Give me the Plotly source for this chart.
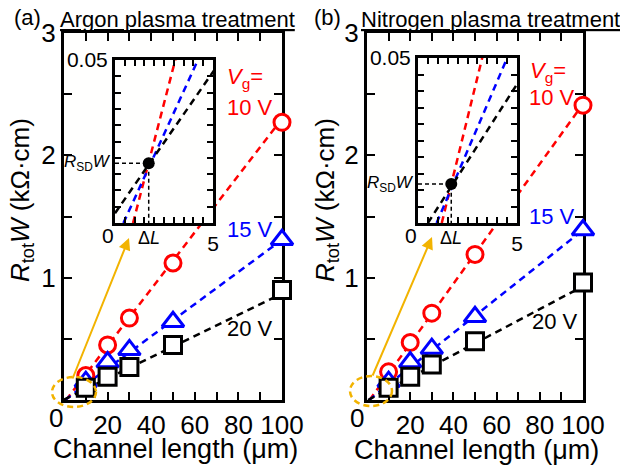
import plotly.graph_objects as go

W, H = 620, 470
FONT = "Liberation Sans, Arial, sans-serif"

# ---------------- data ----------------
L = [10, 20, 30, 50, 100]
a_10V = [0.20, 0.45, 0.67, 1.12, 2.27]
a_15V = [0.15, 0.31, 0.41, 0.64, 1.31]
a_20V = [0.10, 0.19, 0.27, 0.45, 0.90]
b_10V = [0.23, 0.47, 0.71, 1.19, 2.41]
b_15V = [0.15, 0.31, 0.42, 0.68, 1.39]
b_20V = [0.10, 0.19, 0.29, 0.48, 0.96]

# linear-fit lines (end points)
a_fit10_L = [0.92, 100]; a_fit10_R = [0.0, 2.30]
a_fit15_L = [0.43, 100]; a_fit15_R = [0.0, 1.31]
a_fit20_L = [0.0, 100];  a_fit20_R = [0.003, 0.87]
b_fit10_L = [1.20, 100]; b_fit10_R = [0.0, 2.42]
b_fit15_L = [0.94, 100]; b_fit15_R = [0.0, 1.39]
b_fit20_L = [0.50, 100]; b_fit20_R = [0.0, 0.93]

# crossing point (ΔL, RSD*W)
a_dL, a_RSD = 1.72, 0.0183
b_dL, b_RSD = 1.68, 0.0118

x_ticks = [20, 40, 60, 80, 100]
y_ticks = [1, 2, 3]

RED, BLUE, BLACK = "#ff0000", "#0000ff", "#000000"
YEL = "#f2b300"


def px(x):
    return x / W


def py(y):
    return 1 - y / H


fig = go.Figure()

panels = [
    ("x", "y", "x3", "y3",
     [(a_fit10_L, a_fit10_R, RED), (a_fit15_L, a_fit15_R, BLUE), (a_fit20_L, a_fit20_R, BLACK)],
     [(a_10V, RED, "circle", 16), (a_15V, BLUE, "triangle-up", 19), (a_20V, BLACK, "square", 17)],
     a_dL, a_RSD),
    ("x2", "y2", "x4", "y4",
     [(b_fit10_L, b_fit10_R, RED), (b_fit15_L, b_fit15_R, BLUE), (b_fit20_L, b_fit20_R, BLACK)],
     [(b_10V, RED, "circle", 16), (b_15V, BLUE, "triangle-up", 19), (b_20V, BLACK, "square", 17)],
     b_dL, b_RSD),
]

for xa, ya, xi, yi, fits, series, dL, rsd in panels:
    for fx, fy, c in fits:
        fig.add_trace(go.Scatter(x=fx, y=fy, mode="lines", xaxis=xa, yaxis=ya,
                                 line=dict(color=c, width=2.5, dash="7px,5px"),
                                 showlegend=False, hoverinfo="skip"))
    for vals, c, sym, sz in series:
        fig.add_trace(go.Scatter(x=L, y=vals, mode="markers", xaxis=xa, yaxis=ya,
                                 marker=dict(symbol=sym, size=sz, color="white",
                                             line=dict(color=c, width=3)),
                                 cliponaxis=False, showlegend=False))
    for fx, fy, c in fits:
        fig.add_trace(go.Scatter(x=fx, y=fy, mode="lines", xaxis=xi, yaxis=yi,
                                 line=dict(color=c, width=2.5, dash="7px,5px"),
                                 showlegend=False, hoverinfo="skip"))
    fig.add_trace(go.Scatter(x=[0, dL, dL], y=[rsd, rsd, 0], mode="lines", xaxis=xi, yaxis=yi,
                             line=dict(color="black", width=1.5, dash="4px,3px"),
                             showlegend=False))
    fig.add_trace(go.Scatter(x=[dL], y=[rsd], mode="markers", xaxis=xi, yaxis=yi,
                             marker=dict(color="black", size=12), showlegend=False))

common = dict(ticks="inside", tickcolor="black", showline=True, linecolor="black",
              mirror="ticks", showgrid=False, zeroline=False, automargin=False, fixedrange=True)

main_x = dict(common, range=[0, 100], tickvals=x_ticks, ticktext=[str(v) for v in x_ticks],
              ticklen=8, tickwidth=2, linewidth=3,
              minor=dict(dtick=10, tick0=0, ticks="inside", ticklen=8, tickwidth=2, tickcolor="black"),
              layer="below traces",
              tickfont=dict(family=FONT, size=26, color="black"))
main_y = dict(common, range=[0, 3], tickvals=y_ticks, ticktext=[str(v) for v in y_ticks],
              ticklen=8, tickwidth=2, linewidth=3,
              minor=dict(dtick=0.5, tick0=0, ticks="inside", ticklen=8, tickwidth=2, tickcolor="black"),
              layer="below traces",
              tickfont=dict(family=FONT, size=26, color="black"))
ins_x = dict(common, range=[0, 5], tickvals=[5], ticktext=["5"],
             ticklen=6, tickwidth=1.5, linewidth=3,
             minor=dict(dtick=0.5, tick0=0, ticks="inside", ticklen=6, tickwidth=1.5, tickcolor="black"),
             tickfont=dict(family=FONT, size=21, color="black"))
ins_y = dict(common, range=[0, 0.05], tickvals=[0.05], ticktext=["0.05"],
             ticklen=6, tickwidth=1.5, linewidth=3,
             minor=dict(dtick=0.005, tick0=0, ticks="inside", ticklen=6, tickwidth=1.5, tickcolor="black"),
             tickfont=dict(family=FONT, size=21, color="black"))

fig.update_layout(
    template="none",
    width=W, height=H, margin=dict(l=0, r=0, t=0, b=0, pad=0, autoexpand=False),
    paper_bgcolor="white", plot_bgcolor="#fffffe",
    font=dict(family=FONT, color="black"),
    xaxis=dict(main_x, domain=[px(64), px(282)], anchor="y"),
    yaxis=dict(main_y, domain=[py(400), py(33)], anchor="x"),
    xaxis2=dict(main_x, domain=[px(367), px(583)], anchor="y2"),
    yaxis2=dict(main_y, domain=[py(400), py(33)], anchor="x2"),
    xaxis3=dict(ins_x, domain=[px(115), px(213)], anchor="y3"),
    yaxis3=dict(ins_y, domain=[py(223), py(60)], anchor="x3"),
    xaxis4=dict(ins_x, domain=[px(418), px(517)], anchor="y4"),
    yaxis4=dict(ins_y, domain=[py(223), py(58)], anchor="x4"),
)

ann = []


def txt(x, y, s, size, color="black", angle=0, **kw):
    ann.append(dict(x=px(x), y=py(y), xref="paper", yref="paper", text=s, showarrow=False,
                    font=dict(family=FONT, size=size, color=color), textangle=angle,
                    xanchor="center", yanchor="middle", **kw))


txt(27, 18, "(a)", 22)
txt(177, 20, "<u>Argon plasma treatment</u>", 22)
txt(327, 17, "(b)", 22)
txt(490, 20, "<u>Nitrogen plasma treatment</u>", 22)

ytitle = "<i>R</i><sub>tot</sub><i>W</i> (kΩ·cm)"
txt(22, 200, ytitle, 26, angle=-90)
txt(327, 200, ytitle, 26, angle=-90)
txt(175, 449, "Channel length (μm)", 27)
txt(476, 450, "Channel length (μm)", 27)

# shared corner zeros (drawn slightly left of the origin as in the figure)
txt(56, 418, "0", 26)
txt(357, 418, "0", 26)
txt(108, 236, "0", 21)
txt(411, 236, "0", 21)

txt(245, 78, "<i>V</i><sub>g</sub>=", 22, RED)
txt(250, 107, "10 V", 22, RED)
txt(250, 230, "15 V", 22, BLUE)
txt(250, 328, "20 V", 22, BLACK)
txt(548, 72, "<i>V</i><sub>g</sub>=", 22, RED)
txt(552, 98, "10 V", 22, RED)
txt(552, 216, "15 V", 22, BLUE)
txt(555, 321, "20 V", 22, BLACK)

for xi, yi, dL, rsd in (("x3", "y3", a_dL, a_RSD), ("x4", "y4", b_dL, b_RSD)):
    ann.append(dict(x=0, y=rsd, xref=xi, yref=yi, text="<i>R</i><sub>SD</sub><i>W</i>",
                    showarrow=False, xanchor="right", yanchor="middle", xshift=-2,
                    font=dict(family=FONT, size=17, color="black")))
    ann.append(dict(x=dL, y=0, xref=xi, yref=yi, text="Δ<i>L</i>", showarrow=False,
                    xanchor="center", yanchor="top", yshift=-3,
                    font=dict(family=FONT, size=18, color="black")))

ann.append(dict(x=px(129), y=py(238), xref="paper", yref="paper", text="", showarrow=True,
                ax=72 - 129, ay=380 - 238, arrowcolor=YEL, arrowwidth=2, arrowhead=2, arrowsize=1.2))
ann.append(dict(x=px(432), y=py(237), xref="paper", yref="paper", text="", showarrow=True,
                ax=372 - 432, ay=377 - 237, arrowcolor=YEL, arrowwidth=2, arrowhead=2, arrowsize=1.2))

fig.update_layout(annotations=ann)

fig.add_shape(type="circle", xref="paper", yref="paper", x0=px(52), x1=px(96), y0=py(407), y1=py(377),
              line=dict(color=YEL, width=2.5, dash="6px,4px"), layer="above")
fig.add_shape(type="circle", xref="paper", yref="paper", x0=px(350), x1=px(392), y0=py(406), y1=py(376),
              line=dict(color=YEL, width=2.5, dash="6px,4px"), layer="above")

fig.write_html("out.html", config={"displayModeBar": False},
               post_script="document.body.style.margin='0px';document.body.style.overflow='hidden';")
